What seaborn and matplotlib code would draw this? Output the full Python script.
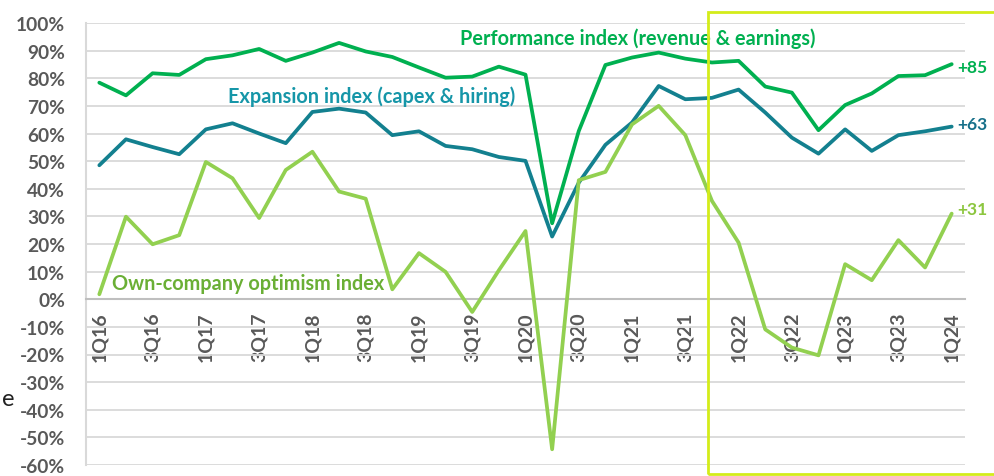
import numpy as np
import pandas as pd
import matplotlib
matplotlib.use("Agg")
import matplotlib.pyplot as plt
from matplotlib.patches import Rectangle
from matplotlib.ticker import FixedLocator, FuncFormatter
import seaborn as sns

quarters = [f"{q}Q{y}" for y in range(16, 25) for q in range(1, 5)][:33]

performance = [78.4, 73.8, 81.8, 81.2, 86.9, 88.3, 90.6, 86.3, 89.3, 92.8, 89.7,
               87.7, 83.9, 80.2, 80.6, 84.2, 81.3, 27.5, 60.9, 84.8, 87.5, 89.3,
               87.1, 85.7, 86.3, 77.0, 74.8, 61.2, 70.3, 74.5, 80.8, 81.1, 85.1]
expansion = [48.5, 57.9, 55.1, 52.5, 61.5, 63.7, 60.0, 56.5, 67.8, 69.0, 67.6,
             59.4, 60.8, 55.5, 54.3, 51.5, 50.1, 22.7, 42.2, 55.9, 64.0, 77.2,
             72.4, 72.9, 75.9, 67.6, 58.5, 52.7, 61.5, 53.7, 59.4, 60.8, 62.5]
optimism = [1.8, 29.9, 19.9, 23.2, 49.7, 43.8, 29.4, 46.8, 53.4, 39.0, 36.4,
            3.6, 16.7, 9.9, -4.6, 10.5, 24.7, -54.3, 43.1, 46.1, 63.3, 70.0,
            59.4, 35.6, 20.5, -10.9, -17.5, -20.3, 12.7, 6.9, 21.4, 11.5, 31.0]

series_names = ["Performance", "Expansion", "Optimism"]
line_colors = ["#00B050", "#13808F", "#92D050"]
end_labels = ["+85", "+63", "+31"]
end_colors = ["#00B050", "#17708A", "#8CC63F"]

sns.set_theme(style="white")
plt.rcParams["font.family"] = ["Lato", "DejaVu Sans"]

df = pd.DataFrame({"idx": np.arange(len(quarters)),
                   "Performance": performance,
                   "Expansion": expansion,
                   "Optimism": optimism})
long_df = df.melt(id_vars="idx", var_name="series", value_name="value")

fig = plt.figure(figsize=(9.94, 4.77), dpi=100)
ax = fig.add_axes([86 / 994, 1 - 466 / 477, (965 - 86) / 994, (466 - 24) / 477])

sns.lineplot(data=long_df, x="idx", y="value", hue="series", hue_order=series_names,
             palette=line_colors, linewidth=2.7, legend=False, ax=ax, zorder=3)

ax.set_xlim(-0.5, len(quarters) - 0.5)
ax.set_ylim(-60, 100)
ax.set_yticks(np.arange(-60, 101, 10))
ax.yaxis.set_major_formatter(FuncFormatter(lambda v, p: f"{int(v)}%"))
ax.grid(axis="y", color="#D9D9D9", linewidth=1.3, zorder=0)
ax.set_axisbelow(True)
ax.set_xlabel("")
ax.set_ylabel("")

# category axis crossing at zero
ax.spines["bottom"].set_position(("data", 0))
ax.spines["bottom"].set_color("#BFBFBF")
ax.spines["bottom"].set_linewidth(1.5)
ax.spines["left"].set_color("#D9D9D9")
ax.spines["left"].set_linewidth(1.5)
ax.spines["top"].set_visible(False)
ax.spines["right"].set_visible(False)

label_idx = list(range(0, len(quarters), 2))
ax.xaxis.set_major_locator(FixedLocator(label_idx))
ax.set_xticklabels([quarters[i] for i in label_idx], rotation=90, fontsize=14,
                   fontweight="bold", color="#595959")
ax.xaxis.set_minor_locator(FixedLocator(np.arange(-0.5, len(quarters), 1)))
ax.tick_params(axis="x", which="major", length=0, pad=9)
ax.tick_params(axis="x", which="minor", length=5, width=1.3, color="#BFBFBF", direction="out")
ax.tick_params(axis="y", length=0, pad=15)
for t in ax.get_yticklabels():
    t.set_fontsize(13.8)
    t.set_fontweight("bold")
    t.set_color("#595959")

# series labels
ax.text(13.53, 94.8, "Performance index (revenue & earnings)", color="#00B050",
        fontsize=14.3, fontweight="bold", ha="left", va="center")
ax.text(4.83, 73.8, "Expansion index (capex & hiring)", color="#1696A8",
        fontsize=14.3, fontweight="bold", ha="left", va="center")
ax.text(0.48, 5.8, "Own-company optimism index", color="#6AAF35",
        fontsize=14.3, fontweight="bold", ha="left", va="center")

last = len(quarters) - 1
for vals, lab, col, off in zip([performance, expansion, optimism], end_labels,
                               end_colors, [-1.0, 0.8, 1.6]):
    ax.text(last + 0.22, vals[-1] + off, lab, color=col, fontsize=12.5,
            fontweight="bold", ha="left", va="center")

# highlight box for the recent period
fig.patches.append(Rectangle((708 / 994, 1 - 475 / 477), 0.5, (475 - 13) / 477,
                             transform=fig.transFigure, fill=False,
                             edgecolor="#D4EC1A", linewidth=2, zorder=5))

fig.text(0.002, 1 - 400 / 477, "e", fontsize=17, color="#222222", va="center", ha="left")

fig.savefig("out.png", dpi=100)
